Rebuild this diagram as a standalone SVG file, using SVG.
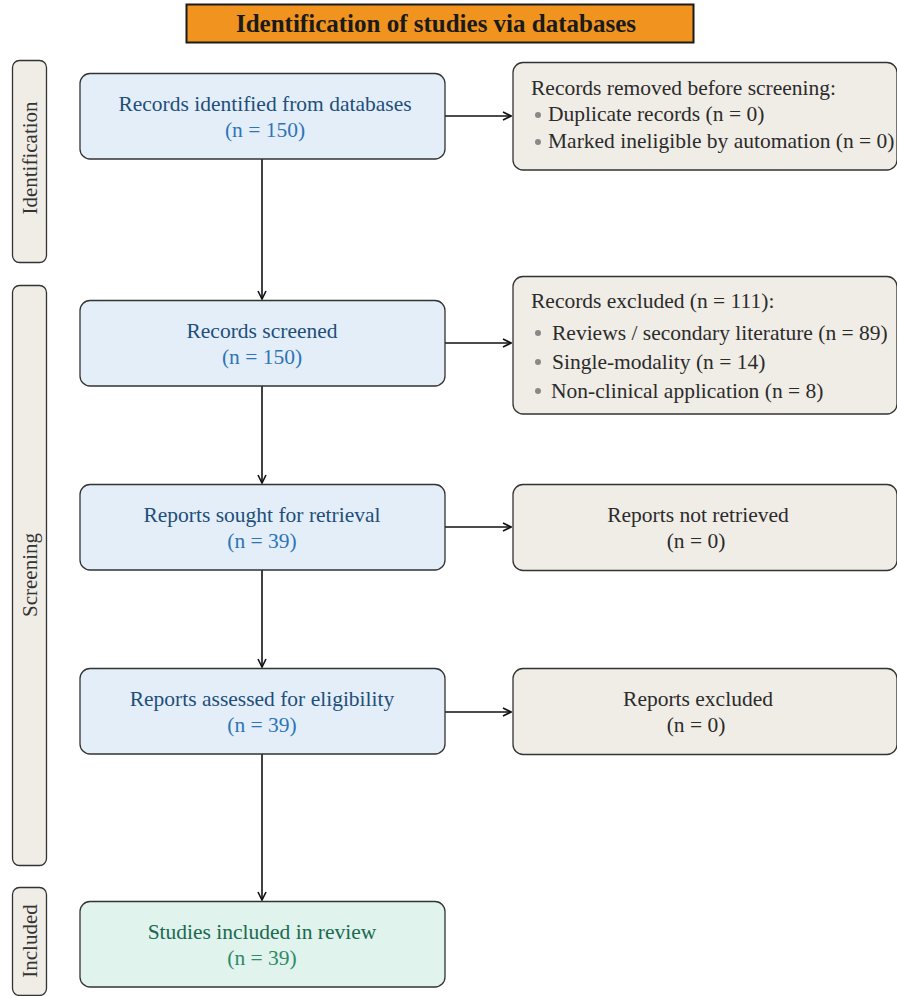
<svg xmlns="http://www.w3.org/2000/svg" width="897" height="996" viewBox="0 0 897 996">
<style>
text{font-family:"Liberation Serif","Times New Roman",serif;}
.title{font-size:25px;font-weight:bold;fill:#1a1a1a;text-anchor:middle;}
.side rect{fill:#F0EDE6;stroke:#333;stroke-width:1.3;}
.side text{font-size:21px;fill:#333;text-anchor:middle;}
.blue rect{fill:#E3EEF9;stroke:#333;stroke-width:1.3;}
.blue .t1{fill:#1F4E79;font-size:21.5px;text-anchor:middle;}
.blue .t2{fill:#2E75B6;font-size:21.5px;text-anchor:middle;}
.green rect{fill:#E0F3EC;stroke:#333;stroke-width:1.3;}
.green .t1{fill:#1B6A4F;font-size:21.5px;text-anchor:middle;}
.green .t2{fill:#2E8A68;font-size:21.5px;text-anchor:middle;}
.grey rect{fill:#F0EDE6;stroke:#333;stroke-width:1.3;}
.grey text{fill:#2b2b2b;font-size:21.5px;}
.grey .c{text-anchor:middle;}
.bul{fill:#888;}
.conn line{stroke:#111;stroke-width:1.6;fill:none;}
</style>
<defs>
<marker id="arr" viewBox="0 0 10 10" refX="9" refY="5" markerWidth="10" markerHeight="10" markerUnits="userSpaceOnUse" orient="auto">
<path d="M1,1 L9,5 L1,9" fill="none" stroke="#111" stroke-width="1.6"/>
</marker>
</defs>
<rect width="897" height="996" fill="#fff"/>

<g id="title">
<rect x="186.5" y="4.5" width="507" height="38" fill="#F0941F" stroke="#1a1a1a" stroke-width="2"/>
<text class="title" x="436" y="32">Identification of studies via databases</text>
</g>

<g id="side-identification" class="side">
<rect x="12.5" y="60.5" width="34" height="202" rx="7"/>
<text transform="translate(37,158) rotate(-90)">Identification</text>
</g>
<g id="side-screening" class="side">
<rect x="12.5" y="285.5" width="34" height="580" rx="7"/>
<text transform="translate(37,575) rotate(-90)">Screening</text>
</g>
<g id="side-included" class="side">
<rect x="12.5" y="887.5" width="34" height="108" rx="7"/>
<text transform="translate(37,941) rotate(-90)">Included</text>
</g>

<g class="conn" id="connectors">
<line x1="262" y1="159" x2="262" y2="299" marker-end="url(#arr)"/>
<line x1="262" y1="386" x2="262" y2="483" marker-end="url(#arr)"/>
<line x1="262" y1="570" x2="262" y2="667" marker-end="url(#arr)"/>
<line x1="262" y1="754" x2="262" y2="900" marker-end="url(#arr)"/>
<line x1="445" y1="116" x2="511" y2="116" marker-end="url(#arr)"/>
<line x1="445" y1="343" x2="511" y2="343" marker-end="url(#arr)"/>
<line x1="445" y1="527" x2="511" y2="527" marker-end="url(#arr)"/>
<line x1="445" y1="712" x2="511" y2="712" marker-end="url(#arr)"/>
</g>

<g id="records-identified" class="blue">
<rect x="80" y="73.5" width="365" height="85.5" rx="10"/>
<text class="t1" x="265" y="111">Records identified from databases</text>
<text class="t2" x="265" y="137">(n = 150)</text>
</g>
<g id="records-screened" class="blue">
<rect x="80" y="300.5" width="365" height="85.5" rx="10"/>
<text class="t1" x="262" y="338">Records screened</text>
<text class="t2" x="262" y="364">(n = 150)</text>
</g>
<g id="reports-sought" class="blue">
<rect x="80" y="484.5" width="365" height="85.5" rx="10"/>
<text class="t1" x="262" y="522">Reports sought for retrieval</text>
<text class="t2" x="262" y="548">(n = 39)</text>
</g>
<g id="reports-assessed" class="blue">
<rect x="80" y="668.5" width="365" height="85.5" rx="10"/>
<text class="t1" x="262" y="706">Reports assessed for eligibility</text>
<text class="t2" x="262" y="732">(n = 39)</text>
</g>
<g id="studies-included" class="green">
<rect x="80" y="901.5" width="365" height="85.5" rx="10"/>
<text class="t1" x="262" y="939">Studies included in review</text>
<text class="t2" x="262" y="965">(n = 39)</text>
</g>

<g id="records-removed" class="grey">
<rect x="513" y="62.5" width="384" height="107.5" rx="10"/>
<text x="531" y="95">Records removed before screening:</text>
<circle class="bul" cx="538" cy="115" r="3"/>
<text x="548" y="121">Duplicate records (n = 0)</text>
<circle class="bul" cx="538" cy="142" r="3"/>
<text x="548" y="148">Marked ineligible by automation (n = 0)</text>
</g>
<g id="records-excluded" class="grey">
<rect x="513" y="276.5" width="384" height="137.5" rx="10"/>
<text x="531" y="308">Records excluded (n = 111):</text>
<circle class="bul" cx="538" cy="333" r="3"/>
<text x="552" y="340">Reviews / secondary literature (n = 89)</text>
<circle class="bul" cx="538" cy="362" r="3"/>
<text x="552" y="369">Single-modality (n = 14)</text>
<circle class="bul" cx="538" cy="391" r="3"/>
<text x="551" y="398">Non-clinical application (n = 8)</text>
</g>
<g id="reports-not-retrieved" class="grey">
<rect x="513" y="484.5" width="384" height="86" rx="10"/>
<text class="c" x="698" y="522">Reports not retrieved</text>
<text class="c" x="696" y="548">(n = 0)</text>
</g>
<g id="reports-excluded" class="grey">
<rect x="513" y="668.5" width="384" height="86" rx="10"/>
<text class="c" x="698" y="706">Reports excluded</text>
<text class="c" x="696" y="732">(n = 0)</text>
</g>
</svg>
